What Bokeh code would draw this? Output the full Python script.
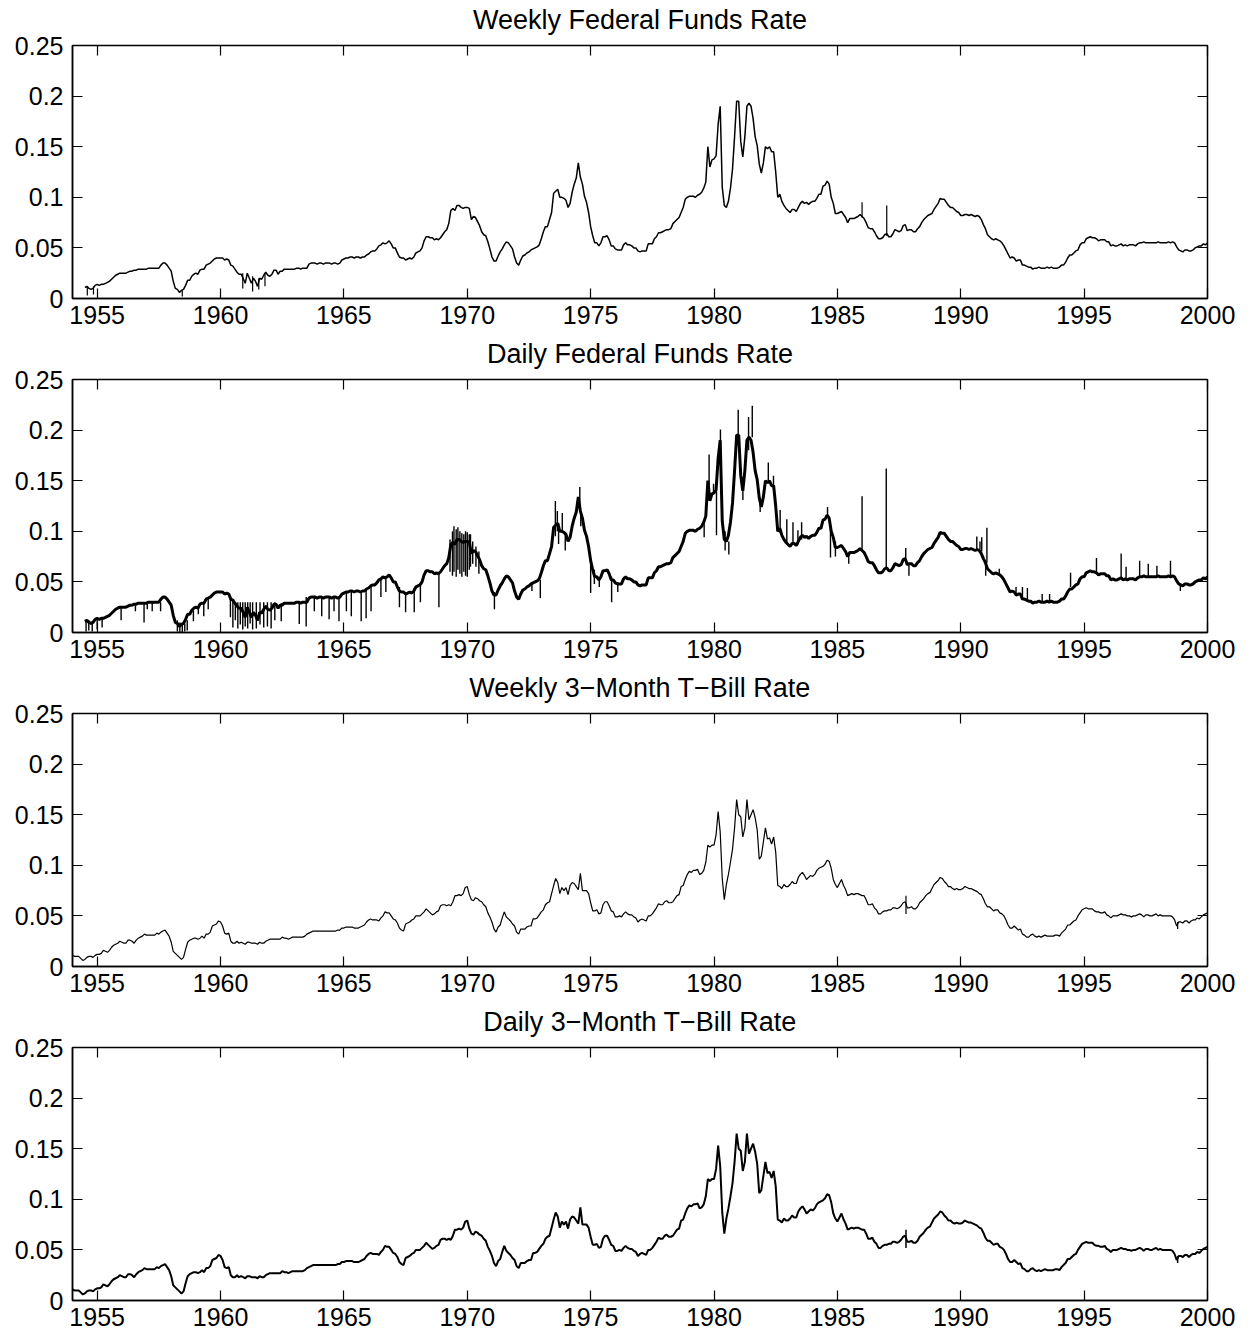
import numpy as np
from bokeh.plotting import figure
from bokeh.layouts import column
from bokeh.models import Range1d, FixedTicker, LinearAxis
from bokeh.embed import file_html
from bokeh.resources import INLINE

# ---------------- data ----------------
titles = ["Weekly Federal Funds Rate", "Daily Federal Funds Rate",
          "Weekly 3\u2212Month T\u2212Bill Rate", "Daily 3\u2212Month T\u2212Bill Rate"]
x_ticks = [1955, 1960, 1965, 1970, 1975, 1980, 1985, 1990, 1995, 2000]
y_ticks = [0, 0.05, 0.1, 0.15, 0.2, 0.25]
y_tick_labels = ["0", "0.05", "0.1", "0.15", "0.2", "0.25"]

# Federal funds rate, monthly samples starting July 1954
ff_start = 1954.5
ff_rates = [
    .011, .012, .010, .009, .010, .013,
    .014, .013, .014, .014, .015, .016, .017, .019, .021, .023, .024, .025,
    .025, .025, .025, .026, .027, .027, .028, .028, .029, .029, .029, .029,
    .029, .030, .030, .030, .030, .030, .030, .033, .035, .035, .033, .030,
    .027, .017, .010, .009, .006, .008, .009, .013, .018, .018, .022, .024,
    .025, .024, .028, .029, .029, .033, .034, .035, .037, .039, .040, .040,
    .040, .040, .038, .039, .038, .033, .032, .029, .026, .024, .024, .020,
    .015, .025, .020, .015, .020, .017, .012, .020, .019, .023, .026, .023,
    .022, .024, .028, .028, .024, .027, .027, .029, .029, .029, .029, .029,
    .029, .030, .030, .029, .030, .030, .030, .034, .035, .035, .035, .034,
    .035, .035, .034, .035, .035, .035, .034, .035, .035, .034, .035, .038,
    .039, .040, .040, .041, .041, .040, .041, .041, .040, .041, .041, .043,
    .044, .046, .047, .047, .049, .052, .053, .055, .054, .055, .057, .054,
    .050, .050, .045, .041, .040, .040, .038, .039, .040, .039, .041, .045,
    .046, .047, .050, .057, .061, .061, .060, .060, .058, .059, .058, .060,
    .063, .066, .068, .074, .087, .089, .087, .092, .092, .090, .089, .090,
    .090, .089, .078, .081, .080, .076, .072, .066, .063, .062, .056, .049,
    .041, .037, .037, .042, .046, .049, .053, .056, .055, .052, .049, .041,
    .035, .033, .038, .042, .043, .045, .046, .048, .049, .050, .051, .053,
    .059, .066, .071, .071, .078, .085, .104, .106, .108, .100, .100, .099,
    .097, .090, .094, .105, .113, .119, .134, .120, .113, .101, .095, .085,
    .071, .062, .055, .055, .052, .055, .061, .061, .062, .058, .052, .052,
    .049, .048, .048, .048, .053, .055, .053, .053, .052, .050, .050, .047,
    .046, .047, .047, .047, .054, .054, .054, .059, .061, .065, .065, .066,
    .067, .068, .068, .069, .074, .076, .078, .080, .085, .090, .098, .100,
    .101, .101, .101, .100, .102, .103, .105, .109, .115, .150, .130, .137,
    .138, .141, .172, .190, .110, .092, .090, .096, .109, .128, .160, .195,
    .195, .155, .140, .160, .190, .193, .190, .178, .160, .151, .133, .124,
    .134, .150, .148, .150, .145, .145, .125, .100, .103, .096, .092, .089,
    .087, .085, .088, .088, .086, .090, .094, .096, .094, .095, .093, .095,
    .096, .096, .099, .103, .103, .111, .112, .116, .113, .100, .094, .084,
    .084, .085, .086, .083, .080, .075, .079, .079, .079, .080, .081, .083,
    .081, .079, .075, .070, .069, .069, .066, .062, .059, .059, .060, .063,
    .064, .061, .061, .064, .068, .067, .066, .067, .072, .073, .067, .068,
    .068, .066, .066, .069, .071, .075, .078, .080, .082, .083, .084, .088,
    .091, .094, .099, .098, .098, .095, .092, .090, .090, .088, .086, .085,
    .082, .082, .083, .083, .082, .083, .082, .081, .082, .081, .078, .073,
    .069, .063, .061, .059, .058, .059, .058, .057, .055, .052, .048, .044,
    .040, .041, .040, .037, .038, .038, .033, .033, .032, .031, .031, .029,
    .030, .030, .031, .030, .030, .030, .031, .030, .031, .030, .030, .030,
    .031, .033, .033, .036, .040, .043, .043, .045, .047, .048, .053, .055,
    .055, .059, .060, .061, .060, .060, .059, .057, .058, .058, .058, .056,
    .056, .052, .053, .052, .052, .053, .054, .052, .053, .052, .053, .053,
    .053, .052, .054, .055, .055, .056, .055, .055, .055, .055, .055, .055,
    .056, .055, .055, .055, .055, .056, .055, .056, .055, .051, .048, .047,
    .046, .048, .048, .047, .047, .048, .050, .051, .052, .052, .054, .053,
    .055,
]

# single-week spikes of the weekly funds rate: year, from, to
ffw_spike_year = [1954.6, 1954.85, 1958.45, 1960.9, 1961.3, 1961.55, 1961.8, 1986.0, 1987.0]
ffw_spike_from = [.012, .012, .008, .025, .022, .020, .025, .080, .062]
ffw_spike_to = [.003, .004, .002, .010, .007, .009, .012, .095, .092]

# single-day spikes of the daily funds rate: year, from, to
ffd_spike_year = [
    1954.55, 1954.66, 1954.8, 1955.0, 1955.2, 1955.97, 1956.55, 1956.9, 1957.03, 1957.23, 1957.57,
    1958.25, 1958.35, 1958.45, 1958.55, 1958.65, 1958.9, 1959.1, 1959.32, 1959.5,
    1960.4, 1960.5, 1960.6, 1960.7, 1960.8, 1960.9, 1961.0, 1961.1, 1961.2, 1961.3, 1961.45,
    1961.6, 1961.75, 1961.9, 1962.05, 1962.2, 1962.46, 1963.19, 1963.47,
    1963.8, 1964.1, 1964.4, 1964.6, 1964.8, 1965.1, 1965.3, 1965.7, 1965.9, 1966.1,
    1966.5, 1966.7, 1967.25, 1967.5, 1967.85, 1968.1, 1968.85,
    1969.3, 1969.4, 1969.46, 1969.55, 1969.62, 1969.7, 1969.78, 1969.86, 1969.93, 1970.0,
    1970.08, 1970.13, 1970.22, 1970.35, 1970.47, 1971.1, 1972.62, 1972.96,
    1973.57, 1973.65, 1973.7, 1973.85, 1973.97, 1974.56, 1974.6,
    1975.0, 1975.15, 1975.35, 1975.85, 1976.1,
    1979.6, 1979.8, 1979.98, 1980.1, 1980.26, 1980.45, 1980.6, 1980.98, 1981.17, 1981.4,
    1981.55, 1981.87, 1982.2, 1982.41, 1982.68, 1982.95, 1983.2, 1983.4, 1983.55,
    1984.6, 1984.72, 1984.92, 1985.46, 1986.0, 1986.98, 1987.77, 1987.9,
    1990.65, 1990.78, 1990.85, 1991.01, 1991.06, 1991.56, 1992.24, 1992.5, 1992.7, 1993.3,
    1993.6, 1994.45, 1995.5, 1996.5, 1996.7, 1997.25, 1997.6, 1997.95, 1998.5, 1998.9,
]
ffd_spike_from = [
    .012, .012, .011, .013, .014, .025, .027, .029, .029, .030, .030,
    .012, .010, .008, .009, .012, .022, .025, .029, .033,
    .035, .032, .030, .030, .030, .030, .030, .030, .030, .030, .030,
    .030, .030, .030, .030, .030, .029, .030, .035,
    .035, .035, .035, .035, .035, .040, .041, .041, .042, .045,
    .052, .055, .045, .040, .044, .046, .058,
    .060, .056, .060, .055, .062, .058, .055, .060, .056, .055,
    .062, .065, .068, .065, .058, .040, .048, .052,
    .095, .100, .105, .100, .098, .125, .120,
    .070, .062, .055, .055, .050,
    .108, .140, .137, .140, .185, .100, .090, .195, .150, .180,
    .193, .130, .148, .146, .098, .089, .088, .087, .092,
    .115, .105, .090, .077, .081, .063, .073, .068,
    .082, .082, .080, .070, .069, .058, .039, .033, .032, .030,
    .031, .045, .058, .054, .053, .055, .055, .055, .056, .048,
]
ffd_spike_to = [
    .001, .002, .001, .003, .005, .012, .021, .010, .023, .021, .021,
    .001, .000, .000, .001, .002, .011, .018, .016, .023,
    .015, .005, .012, .004, .008, .003, .006, .004, .009, .003, .004,
    .008, .005, .006, .004, .012, .011, .0085, .006,
    .021, .016, .013, .021, .011, .021, .016, .011, .014, .021,
    .035, .040, .025, .020, .020, .030, .025,
    .092, .100, .105, .102, .104, .100, .098, .097, .100, .099,
    .097, .097, .090, .085, .080, .023, .041, .034,
    .130, .120, .0875, .118, .081, .1437, .105,
    .039, .048, .045, .030, .040,
    .094, .176, .147, .096, .2005, .081, .077, .220, .131, .213,
    .224, .119, .168, .155, .121, .112, .109, .101, .109,
    .124, .074, .075, .068, .1347, .162, .0836, .056,
    .0949, .090, .0942, .056, .1034, .063, .045, .045, .044, .038,
    .038, .059, .0737, .078, .065, .071, .068, .066, .071, .041,
]

# 3-month T-bill rate, monthly samples starting January 1954
tb_start = 1954.0
tb_rates = [
    .011, .010, .010, .010, .008, .006, .007, .009, .010, .010, .009, .011,
    .012, .012, .013, .016, .015, .014, .016, .019, .021, .022, .023, .025,
    .024, .023, .023, .026, .026, .025, .023, .026, .028, .029, .030, .032,
    .031, .031, .031, .031, .031, .033, .032, .034, .035, .036, .033, .030,
    .024, .015, .013, .011, .009, .007, .009, .017, .024, .026, .027, .028,
    .028, .027, .028, .030, .028, .032, .032, .034, .040, .041, .042, .045,
    .044, .040, .033, .032, .033, .025, .023, .023, .025, .023, .024, .023,
    .022, .024, .024, .023, .023, .023, .022, .024, .023, .023, .025, .026,
    .027, .027, .027, .027, .027, .027, .029, .028, .028, .027, .028, .029,
    .029, .029, .029, .029, .029, .030, .032, .033, .034, .035, .035, .035,
    .035, .035, .035, .035, .035, .035, .035, .035, .035, .036, .036, .038,
    .038, .039, .039, .039, .039, .038, .038, .038, .039, .040, .041, .044,
    .046, .047, .046, .046, .046, .045, .048, .050, .054, .053, .053, .050,
    .047, .046, .043, .038, .036, .035, .042, .043, .044, .046, .047, .050,
    .050, .050, .052, .054, .057, .055, .053, .051, .052, .054, .055, .060,
    .061, .061, .060, .061, .060, .064, .070, .070, .071, .070, .072, .078,
    .079, .071, .066, .065, .068, .067, .065, .064, .061, .059, .053, .049,
    .044, .037, .034, .039, .041, .048, .054, .049, .047, .045, .042, .040,
    .034, .032, .037, .037, .037, .039, .040, .040, .047, .047, .048, .051,
    .054, .056, .061, .063, .064, .072, .080, .087, .083, .072, .078, .075,
    .078, .071, .080, .083, .082, .079, .076, .092, .075, .075, .075, .072,
    .063, .055, .055, .056, .052, .053, .061, .064, .064, .060, .055, .054,
    .049, .049, .050, .049, .052, .054, .052, .051, .051, .049, .048, .044,
    .046, .047, .046, .045, .050, .050, .052, .055, .058, .062, .061, .061,
    .064, .065, .063, .063, .064, .067, .070, .071, .079, .080, .086, .091,
    .094, .093, .095, .095, .096, .091, .092, .095, .103, .120, .118, .120,
    .120, .130, .153, .133, .087, .066, .081, .091, .103, .116, .137, .165,
    .150, .148, .128, .137, .165, .145, .150, .155, .147, .135, .106, .109,
    .123, .137, .126, .127, .121, .128, .113, .080, .079, .077, .081, .079,
    .079, .081, .084, .082, .082, .088, .091, .093, .090, .086, .088, .090,
    .089, .091, .095, .097, .098, .099, .101, .105, .104, .097, .086, .081,
    .078, .082, .086, .080, .076, .070, .071, .072, .071, .072, .072, .071,
    .070, .070, .066, .061, .061, .062, .058, .056, .052, .052, .054, .055,
    .055, .056, .056, .058, .058, .057, .058, .060, .063, .064, .058, .058,
    .059, .057, .057, .059, .063, .065, .067, .070, .072, .073, .077, .081,
    .083, .085, .088, .087, .084, .082, .079, .079, .077, .076, .077, .076,
    .076, .077, .079, .078, .077, .077, .076, .075, .074, .072, .071, .067,
    .062, .059, .059, .057, .055, .056, .056, .053, .052, .050, .046, .041,
    .038, .038, .040, .038, .036, .037, .032, .031, .029, .029, .031, .032,
    .030, .029, .030, .029, .030, .031, .030, .030, .030, .030, .031, .031,
    .030, .033, .035, .037, .041, .041, .043, .045, .046, .050, .053, .056,
    .057, .058, .057, .057, .057, .055, .054, .054, .053, .053, .054, .051,
    .050, .048, .050, .050, .050, .051, .052, .051, .051, .050, .050, .049,
    .050, .050, .051, .052, .051, .049, .051, .051, .050, .050, .051, .052,
    .050, .051, .050, .050, .050, .050, .050, .049, .046, .040, .044, .044,
    .043, .045, .045, .043, .045, .046, .046, .048, .047, .049, .051, .052,
    .053,
]
tb_spike_year = [1987.78, 1998.79]
tb_spike_from = [.052, .044]
tb_spike_to = [.070, .037]

# ---------------- drawing ----------------
FONT = "Liberation Sans"
ff_years = ff_start + np.arange(len(ff_rates)) / 12.0
tb_years = tb_start + np.arange(len(tb_rates)) / 12.0


def style_axis(ax, ticks, show_labels, standoff):
    ax.ticker = FixedTicker(ticks=ticks)
    ax.major_tick_in = 10
    ax.major_tick_out = 0
    ax.minor_tick_line_color = None
    ax.major_tick_line_color = "black"
    ax.major_tick_line_width = 1.2
    ax.axis_line_color = "black"
    ax.axis_line_width = 1.5
    ax.major_label_text_font = FONT
    ax.major_label_text_color = "black"
    ax.major_label_standoff = standoff
    ax.major_label_text_font_size = "25px"
    if not show_labels:
        # ticks only: labels are not drawn at all
        ax.major_label_text_color = None
        ax.major_label_text_font_size = "1px"
        ax.major_label_standoff = 0
        ax.axis_line_color = None


def make_fig(title):
    p = figure(width=1241, height=334, output_backend="svg", toolbar_location=None, tools="",
               title=None,
               x_range=Range1d(1954, 2000), y_range=Range1d(0, 0.25),
               min_border_left=72, min_border_right=34, min_border_top=45,
               min_border_bottom=36)
    p.grid.visible = False
    p.outline_line_color = "black"
    p.outline_line_width = 1.5
    p.background_fill_color = "white"
    p.border_fill_color = "white"
    style_axis(p.xaxis[0], x_ticks, True, 7)
    style_axis(p.yaxis[0], y_ticks, True, 9)
    p.yaxis[0].major_label_overrides = {t: l for t, l in zip(y_ticks, y_tick_labels)}
    top = LinearAxis()
    right = LinearAxis()
    p.add_layout(top, "above")
    p.add_layout(right, "right")
    style_axis(top, x_ticks, False, 0)
    style_axis(right, y_ticks, False, 0)
    # the subplot title sits above the frame, centred on it
    top.axis_label = title
    top.axis_label_text_font = FONT
    top.axis_label_text_font_size = "27px"
    top.axis_label_text_font_style = "normal"
    top.axis_label_text_color = "black"
    top.axis_label_standoff = 11
    return p


p1 = make_fig(titles[0])
p1.line(ff_years, ff_rates, line_color="black", line_width=1.5)
p1.segment(x0=ffw_spike_year, y0=ffw_spike_from, x1=ffw_spike_year, y1=ffw_spike_to,
           line_color="black", line_width=1.2)

p2 = make_fig(titles[1])
p2.line(ff_years, ff_rates, line_color="black", line_width=3.0)
p2.segment(x0=ffd_spike_year, y0=ffd_spike_from, x1=ffd_spike_year, y1=ffd_spike_to,
           line_color="black", line_width=1.4)

p3 = make_fig(titles[2])
p3.line(tb_years, tb_rates, line_color="black", line_width=1.2)
p3.segment(x0=tb_spike_year, y0=tb_spike_from, x1=tb_spike_year, y1=tb_spike_to,
           line_color="black", line_width=1.2)

p4 = make_fig(titles[3])
p4.line(tb_years, tb_rates, line_color="black", line_width=2.0)
p4.segment(x0=tb_spike_year, y0=tb_spike_from, x1=tb_spike_year, y1=tb_spike_to,
           line_color="black", line_width=1.5)

layout = column(p1, p2, p3, p4, spacing=0)
open("out.html", "w").write(file_html(layout, INLINE))
